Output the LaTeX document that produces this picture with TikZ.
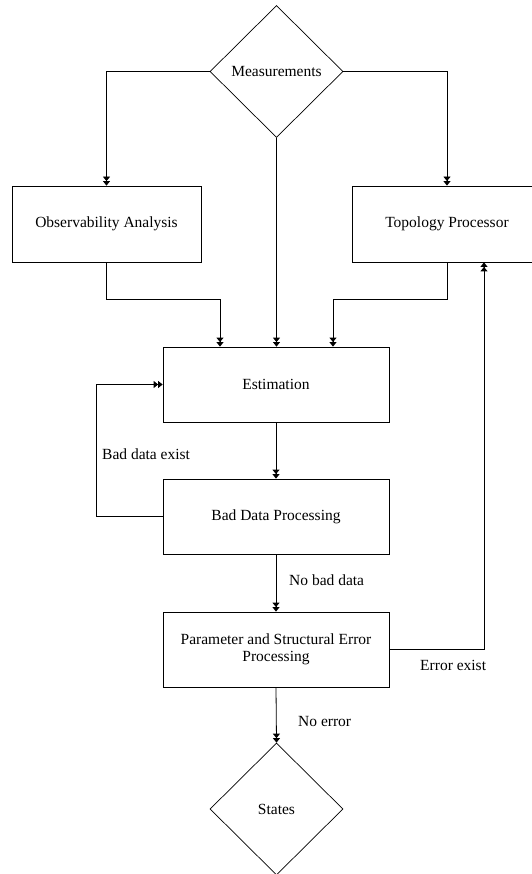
\documentclass[tikz,border=0pt]{standalone}
\usepackage{fontspec}
\setmainfont{Liberation Serif}
\usetikzlibrary{arrows.meta,shapes.geometric}
\tikzset{
  x={(1pt,0)}, y={(0,-1pt)},
  every node/.style={font=\fontsize{15.5}{17.5}\selectfont},
  procbox/.style={draw, line width=0.8pt, inner sep=0pt, align=center,
    minimum width=226pt, minimum height=75pt},
  sidebox/.style={draw, line width=0.8pt, inner sep=0pt, align=center,
    minimum width=189pt, minimum height=76pt},
  decision/.style={draw, diamond, line width=0.7pt, inner sep=0pt,
    minimum width=133pt, minimum height=132pt},
  arr/.style={draw, line width=0.8pt,
    -{Triangle[length=4.5pt,width=7pt]Triangle[length=4.5pt,width=7pt]}},
  plain/.style={draw, line width=0.8pt},
  lbl/.style={anchor=west, inner sep=0pt}
}
\begin{document}
\begin{tikzpicture}
\useasboundingbox (0,0) rectangle (531,874);

% nodes
\node[decision] (meas) at (276.5,71.5) {Measurements};
\node[sidebox] (obs) at (106.5,224) {Observability Analysis};
\node[sidebox] (topo) at (447,224) {Topology Processor};
\node[procbox] (est) at (276,384.5) {Estimation};
\node[procbox] (bad) at (276,516.5) {Bad Data Processing};
\node[procbox] (par) at (276,649.5) {Parameter and Structural Error\\Processing};
\node[decision] (states) at (276.5,809) {States};

% helper coordinates
\coordinate (jl) at (220,299);
\coordinate (jr) at (333,299);
\coordinate (ex) at (484,0);

% connectors
\draw[arr] (meas.west) -| (obs.north);
\draw[arr] (meas.east) -| (topo.north);
\draw[arr] (meas.south) -- (meas.south |- est.north);
\draw[arr] (obs.south) |- (jl) -- (jl |- est.north);
\draw[arr] (topo.south) |- (jr) -- (jr |- est.north);
\draw[arr] (est.south) -- (bad.north);
\draw[arr] (bad.west) -- ++(-66,0) |- (est.west);
\draw[arr] (bad.south) -- (par.north);
\draw[arr] (par.east) -| (ex |- topo.south);
\draw[arr] (par.south) -- (states.north);

% labels
\node[lbl] (l1) at (102,454) {Bad data exist};
\node[lbl] (l2) at (289,580) {No bad data};
\node[lbl] (l3) at (420,665) {Error exist};
\node[lbl] (l4) at (298,721) {No error};
\end{tikzpicture}
\end{document}
